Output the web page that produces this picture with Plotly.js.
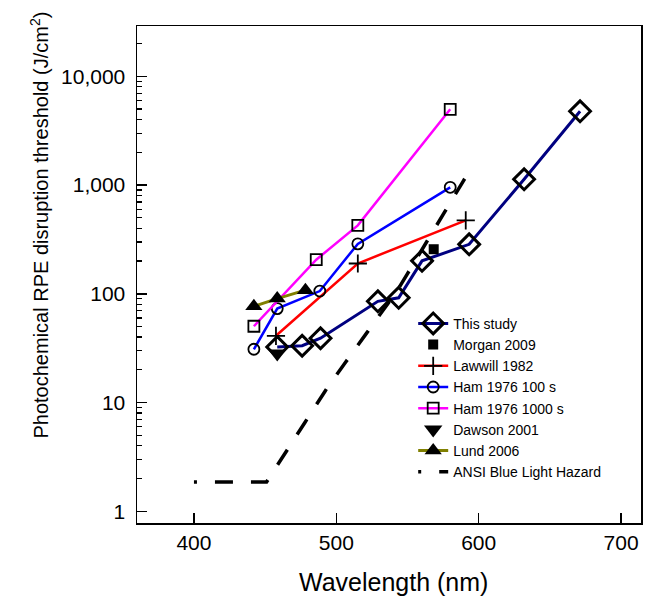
<!DOCTYPE html>
<html>
<head>
<meta charset="utf-8">
<script src="https://cdn.plot.ly/plotly-3.0.1.min.js"></script>
<style>html,body{margin:0;padding:0;background:#fff;}#chart{width:646px;height:604px;}</style>
</head>
<body>
<div id="chart"></div>
<script>
// ---- data ----
const thisStudyX = [458.5, 476.0, 488.9, 529.2, 543.8, 560.2, 593.3, 631.9, 671.2];
const thisStudyY = [32.4, 33.3, 39.0, 85.3, 91.9, 201, 285, 1130, 4770];

const morganX = [568.4];
const morganY = [257];

const lawwillX = [457.6, 515.1, 590.9];
const lawwillY = [41.1, 190, 474];

const ham100X = [442.1, 458.5, 488.4, 515.1, 580.0];
const ham100Y = [30.9, 73.1, 106, 288, 953];

const ham1000X = [442.1, 485.9, 515.1, 580.0];
const ham1000Y = [50.3, 206, 426, 4975];

const dawsonX = [458.5];
const dawsonY = [28.2];

const lundX = [442.1, 458.5, 478.3];
const lundY = [76.7, 90.4, 108];

const ansiX = [400, 451, 494, 543, 595];
const ansiY = [1.86, 1.86, 13.9, 108, 1456];

const seriesNames = ["This study", "Morgan 2009", "Lawwill 1982", "Ham 1976 100 s",
                     "Ham 1976 1000 s", "Dawson 2001", "Lund 2006", "ANSI Blue Light Hazard"];

const xTickVals = [400, 500, 600, 700];
const yTickVals = [1, 10, 100, 1000, 10000];
const yTickText = ["1", "10", "100", "1,000", "10,000"];

// minor log ticks (2..9 per decade)
const yMinor = [];
for (let d = 0; d <= 4; d++) for (let k = 2; k <= 9; k++) yMinor.push(k * Math.pow(10, d));

const FONT = "Liberation Sans, Arial, sans-serif";

const traces = [
  {x: thisStudyX, y: thisStudyY, name: seriesNames[0], mode: "lines+markers",
   line: {color: "#000080", width: 3},
   marker: {symbol: "diamond-open", size: 16, color: "#000", line: {color: "#000", width: 3}}},
  {x: morganX, y: morganY, name: seriesNames[1], mode: "markers",
   marker: {symbol: "square", size: 10, color: "#000"}},
  {x: lawwillX, y: lawwillY, name: seriesNames[2], mode: "lines+markers",
   line: {color: "#ff0000", width: 2.5},
   marker: {symbol: "cross-thin-open", size: 13, color: "#000", line: {color: "#000", width: 1.8}}},
  {x: ham100X, y: ham100Y, name: seriesNames[3], mode: "lines+markers",
   line: {color: "#0000ff", width: 2.5},
   marker: {symbol: "circle-open", size: 11, color: "#000", line: {color: "#000", width: 1.8}}},
  {x: ham1000X, y: ham1000Y, name: seriesNames[4], mode: "lines+markers",
   line: {color: "#ff00ff", width: 2.5},
   marker: {symbol: "square-open", size: 11, color: "#000", line: {color: "#000", width: 1.8}}},
  {x: dawsonX, y: dawsonY, name: seriesNames[5], mode: "markers",
   marker: {symbol: "triangle-down", size: 16, color: "#000"}},
  {x: lundX, y: lundY, name: seriesNames[6], mode: "lines+markers",
   line: {color: "#808000", width: 3},
   marker: {symbol: "triangle-up", size: 15, color: "#000"}},
  {x: ansiX, y: ansiY, name: seriesNames[7], mode: "lines",
   line: {color: "#000", width: 3.5, dash: "3px,18px,15px,0px"}}
];

const layout = {
  width: 646, height: 604,
  margin: {l: 137, r: 5, t: 26, b: 81},
  paper_bgcolor: "#fff", plot_bgcolor: "#fff",
  font: {family: FONT, color: "#000"},
  showlegend: true,
  legend: {x: 0.548, y: 0.433, xanchor: "left", yanchor: "top",
           bgcolor: "rgba(0,0,0,0)", borderwidth: 0,
           font: {family: FONT, size: 14, color: "#000"}},
  xaxis: {range: [360, 714], tickmode: "array", tickvals: xTickVals,
          ticks: "inside", ticklen: 10, tickwidth: 1.5, tickcolor: "#000",
          showline: true, linecolor: "#000", linewidth: 1.5, mirror: true,
          showgrid: false, zeroline: false,
          tickfont: {family: FONT, size: 21, color: "#000"}},
  yaxis: {type: "log", range: [-0.108, 4.463], tickmode: "array",
          tickvals: yTickVals, ticktext: yTickText,
          ticks: "inside", ticklen: 10, tickwidth: 1.5, tickcolor: "#000",
          minor: {tickmode: "array", tickvals: yMinor, ticks: "inside", ticklen: 5, tickwidth: 1.2, tickcolor: "#000", showgrid: false},
          showline: true, linecolor: "#000", linewidth: 1.5, mirror: true,
          showgrid: false, zeroline: false, ticklabelstandoff: 6,
          tickfont: {family: FONT, size: 21, color: "#000"}},
  annotations: [
    {text: "Photochemical RPE disruption threshold (J/cm<sup>2</sup>)", xref: "paper", yref: "paper",
     x: -0.194, y: 0.599, xanchor: "center", yanchor: "middle", textangle: -90, showarrow: false,
     font: {family: FONT, size: 20, color: "#000"}},
    {text: "Wavelength (nm)", xref: "paper", yref: "paper",
     x: 0.508, y: -0.1187, xanchor: "center", yanchor: "middle", showarrow: false,
     font: {family: FONT, size: 25, color: "#000"}}
  ]
};

Plotly.newPlot("chart", traces, layout, {staticPlot: true, displayModeBar: false});
</script>
</body>
</html>
